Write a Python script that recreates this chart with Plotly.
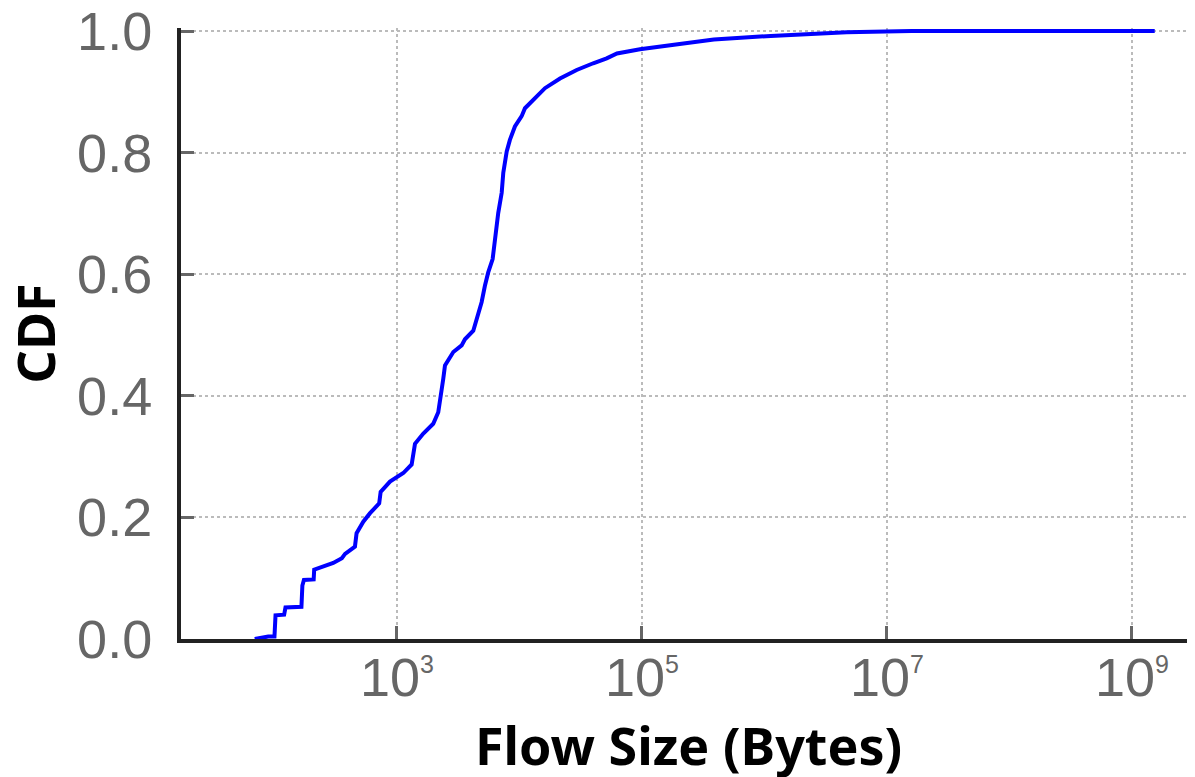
import plotly.graph_objects as go

# flow size CDF (bytes, cumulative fraction)
flow_bytes = [69, 89, 100, 102, 120, 123, 166, 169, 174, 209, 211, 302, 355, 377,
              454, 468, 531, 603, 716, 736, 877, 1127, 1318, 1403, 1641, 1977,
              2173, 2317, 2388, 2466, 2884, 3373, 3589, 4198, 4477, 4909, 5224,
              5559, 6039, 6310, 6714, 7161, 7379, 7870, 8356, 9183, 10423, 11092,
              12972, 16144, 21429, 29310, 39994, 51523, 62517, 96383, 189234,
              386367, 1124605, 4688134, 15848932, 1534617000]
cdf = [0.0, 0.004, 0.004, 0.039, 0.040, 0.052, 0.053, 0.088, 0.097, 0.098, 0.114,
       0.125, 0.133, 0.140, 0.152, 0.174, 0.193, 0.207, 0.223, 0.242, 0.259, 0.273,
       0.287, 0.321, 0.338, 0.354, 0.373, 0.406, 0.428, 0.450, 0.472, 0.483, 0.493,
       0.507, 0.526, 0.554, 0.581, 0.603, 0.625, 0.657, 0.701, 0.734, 0.767, 0.802,
       0.821, 0.843, 0.860, 0.873, 0.887, 0.906, 0.922, 0.936, 0.947, 0.955, 0.963,
       0.970, 0.978, 0.986, 0.992, 0.998, 1.0, 1.0]

x_tickvals = [1e3, 1e5, 1e7, 1e9]
x_exponents = ["3", "5", "7", "9"]
y_tickvals = [0.0, 0.2, 0.4, 0.6, 0.8, 1.0]

# small raised exponent, its top level with the top of the "10"
x_ticktext = ["10<sup><span style='font-size:25px'>%s</span></sup>" % e for e in x_exponents]

fig = go.Figure()
fig.add_trace(go.Scatter(
    x=flow_bytes, y=cdf,
    mode='lines',
    line=dict(color='#0000ff', width=4),
    showlegend=False
))

# page body adds an 8px offset, so the figure is a bit smaller than the window
fig.update_layout(
    width=1187, height=769,
    margin=dict(l=173, r=5, t=20, b=138),
    plot_bgcolor='white',
    paper_bgcolor='white',
)

fig.update_xaxes(
    type='log',
    range=[1.237, 9.474],
    automargin=False,
    tickvals=x_tickvals,
    ticktext=x_ticktext,
    ticks='inside', ticklen=13, tickwidth=3, tickcolor='#666666',
    tickfont=dict(family='Liberation Sans', size=54, color='#666666'),
    ticklabelstandoff=-12,
    ticklabeloverflow='allow',
    showgrid=True, gridcolor='#bbbbbb', griddash='dot', gridwidth=2,
    showline=True, linecolor='#222222', linewidth=4,
    zeroline=False,
)

fig.update_yaxes(
    range=[0, 1.005],
    automargin=False,
    tickvals=y_tickvals,
    tickformat='.1f',
    ticks='inside', ticklen=13, tickwidth=3, tickcolor='#666666',
    tickfont=dict(family='Liberation Sans', size=54, color='#666666'),
    ticklabelstandoff=14,
    ticklabeloverflow='allow',
    showgrid=True, gridcolor='#bbbbbb', griddash='dot', gridwidth=2,
    showline=True, linecolor='#222222', linewidth=4,
    zeroline=False,
)

# axis titles
fig.add_annotation(
    text='<b>Flow Size (Bytes)</b>',
    xref='paper', yref='paper', x=0.503, y=0,
    xanchor='center', yanchor='middle', yshift=-105,
    showarrow=False,
    font=dict(family='Noto Sans', size=52, color='black'),
)
fig.add_annotation(
    text='<b>CDF</b>',
    xref='paper', yref='paper', x=0, y=0.5,
    xanchor='center', yanchor='middle', xshift=-147,
    textangle=-90,
    showarrow=False,
    font=dict(family='Noto Sans', size=52, color='black'),
)

fig.write_html("out.html")
